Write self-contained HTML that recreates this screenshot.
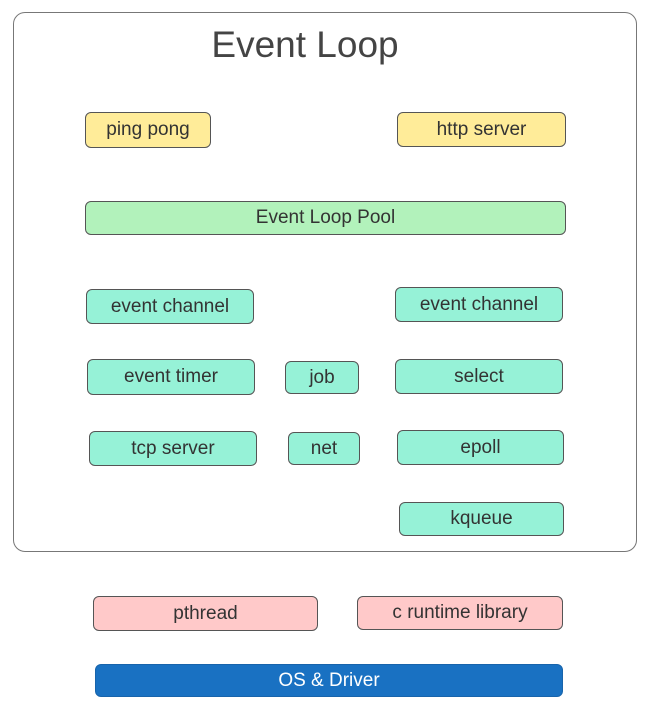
<!DOCTYPE html>
<html><head><meta charset="utf-8"><style>
html,body{margin:0;padding:0;background:#fff;width:652px;height:709px;overflow:hidden}
.b{position:absolute;box-sizing:border-box;border:1.3px solid #555;border-radius:6px;display:flex;align-items:center;justify-content:center;font-family:"Liberation Sans",sans-serif;font-size:19px;color:#333;}
.y{background:#ffec99}.g{background:#b2f2bb}.t{background:#96f2d7}.p{background:#ffc9c9}
</style></head><body>
<div class="b" style="left:13px;top:12px;width:624px;height:540px;border-radius:12px;border-color:#777;background:#fff"></div>
<div style="position:absolute;left:180px;top:24px;width:250px;text-align:center;font-family:'Liberation Sans',sans-serif;font-size:37px;color:#444">Event Loop</div>
<div class="b y" style="left:85px;top:112px;width:126px;height:36px">ping pong</div>
<div class="b y" style="left:397px;top:112px;width:169px;height:35px">http server</div>
<div class="b g" style="left:85px;top:201px;width:481px;height:34px">Event Loop Pool</div>
<div class="b t" style="left:86px;top:289px;width:168px;height:35px">event channel</div>
<div class="b t" style="left:395px;top:287px;width:168px;height:35px">event channel</div>
<div class="b t" style="left:87px;top:359px;width:168px;height:36px">event timer</div>
<div class="b t" style="left:285px;top:361px;width:74px;height:33px">job</div>
<div class="b t" style="left:395px;top:359px;width:168px;height:35px">select</div>
<div class="b t" style="left:89px;top:431px;width:168px;height:35px">tcp server</div>
<div class="b t" style="left:288px;top:432px;width:72px;height:33px">net</div>
<div class="b t" style="left:397px;top:430px;width:167px;height:35px">epoll</div>
<div class="b t" style="left:399px;top:502px;width:165px;height:34px">kqueue</div>
<div class="b p" style="left:93px;top:596px;width:225px;height:35px">pthread</div>
<div class="b p" style="left:357px;top:596px;width:206px;height:34px">c runtime library</div>
<div class="b" style="left:95px;top:664px;width:468px;height:33px;background:#1971c2;border-color:#1864ab;color:#fff">OS &amp; Driver</div>
</body></html>
